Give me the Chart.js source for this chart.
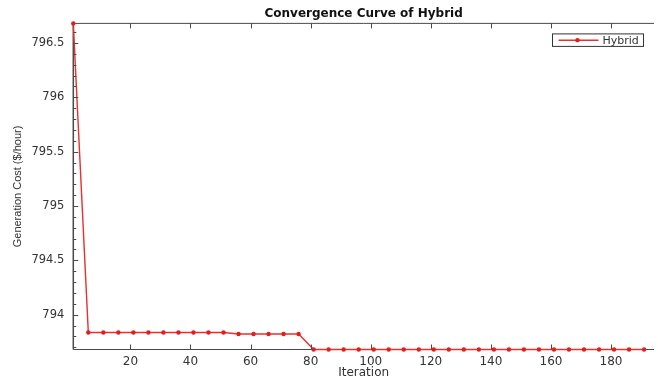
<!DOCTYPE html>
<html>
<head>
<meta charset="utf-8">
<title>Convergence Curve of Hybrid</title>
<script src="https://cdn.jsdelivr.net/npm/chart.js@4.4.0/dist/chart.umd.min.js"></script>
<style>
  html, body { margin: 0; padding: 0; background: #fff; }
  canvas { display: block; }
</style>
</head>
<body>
<canvas id="convChart" width="658" height="382"></canvas>
<script>
// values (markers every 5 iterations)
const iterations = [1, 6, 11, 16, 21, 26, 31, 36, 41, 46, 51, 56, 61, 66, 71, 76, 81, 86, 91, 96,
  101, 106, 111, 116, 121, 126, 131, 136, 141, 146, 151, 156, 161, 166, 171, 176, 181, 186, 191];
const genCost = [796.68,
  793.837, 793.837, 793.837, 793.837, 793.837, 793.837, 793.837, 793.837, 793.837, 793.837,
  793.822, 793.822, 793.822, 793.822, 793.822,
  793.68, 793.68, 793.68, 793.68, 793.68, 793.68, 793.68, 793.68, 793.68, 793.68, 793.68, 793.68,
  793.68, 793.68, 793.68, 793.68, 793.68, 793.68, 793.68, 793.68, 793.68, 793.68, 793.68];
const xTicks = [20, 40, 60, 80, 100, 120, 140, 160, 180];
const yTicks = [794, 794.5, 795, 795.5, 796, 796.5];
const seriesName = 'Hybrid';

const lineRed = '#e8302f';
const axisCol = '#4a4a4a';
const textCol = '#333';

// matlab-ish axes box, inward ticks, legend inside the plot
const matlabAxes = {
  id: 'matlabAxes',
  beforeDraw(chart) {
    const ctx = chart.ctx;
    ctx.save();
    ctx.fillStyle = '#fff';
    ctx.fillRect(0, 0, chart.width, chart.height);
    ctx.restore();
  },
  beforeDatasetsDraw(chart) {
    const ctx = chart.ctx;
    const ca = chart.chartArea;
    ctx.save();
    ctx.strokeStyle = axisCol;
    ctx.lineWidth = 1;
    ctx.beginPath();
    ctx.moveTo(ca.left, ca.bottom);
    ctx.lineTo(ca.right, ca.bottom);
    ctx.moveTo(ca.left, ca.top);
    ctx.lineTo(ca.right, ca.top);
    ctx.stroke();
    ctx.lineWidth = 1.5;
    ctx.beginPath();
    ctx.moveTo(ca.left, ca.top);
    ctx.lineTo(ca.left, ca.bottom);
    ctx.stroke();
    ctx.restore();
  },
  afterDatasetsDraw(chart) {
    const ctx = chart.ctx;
    const ca = chart.chartArea;
    const xs = chart.scales.x, ys = chart.scales.y;
    ctx.save();
    ctx.strokeStyle = axisCol;
    ctx.lineWidth = 1;
    ctx.beginPath();
    xTicks.forEach(v => {
      const px = Math.round(xs.getPixelForValue(v)) + 0.5;
      ctx.moveTo(px, ca.bottom); ctx.lineTo(px, ca.bottom - 5);
      ctx.moveTo(px, ca.top); ctx.lineTo(px, ca.top + 5);
    });
    yTicks.forEach(v => {
      const py = Math.round(ys.getPixelForValue(v)) + 0.5;
      ctx.moveTo(ca.left, py); ctx.lineTo(ca.left + 5, py);
    });
    // minor ticks every 0.1 on the y axis
    for (let k = Math.ceil(ys.min * 10); k <= Math.floor(ys.max * 10); k++) {
      if (k % 5 === 0) continue;
      const py = Math.round(ys.getPixelForValue(k / 10)) + 0.5;
      ctx.moveTo(ca.left, py); ctx.lineTo(ca.left + 3, py);
    }
    ctx.stroke();

    // legend box
    const ds = chart.data.datasets[0];
    const bx = ca.right - 101.5, by = ca.top + 10.5, bw = 91, bh = 12.5;
    ctx.fillStyle = '#fff';
    ctx.fillRect(bx, by, bw, bh);
    ctx.strokeStyle = '#333';
    ctx.strokeRect(bx, by, bw, bh);
    const ly = by + bh / 2;
    ctx.strokeStyle = ds.borderColor;
    ctx.lineWidth = 1.5;
    ctx.beginPath();
    ctx.moveTo(bx + 6, ly); ctx.lineTo(bx + 46, ly);
    ctx.stroke();
    ctx.fillStyle = ds.pointBackgroundColor;
    ctx.beginPath();
    ctx.arc(bx + 25, ly, 2.2, 0, Math.PI * 2);
    ctx.fill();
    ctx.fillStyle = textCol;
    ctx.font = '11px "DejaVu Sans"';
    ctx.textBaseline = 'middle';
    ctx.textAlign = 'left';
    ctx.fillText(ds.label, bx + 50, ly + 0.5);
    ctx.restore();
  }
};

const ctx = document.getElementById('convChart').getContext('2d');
new Chart(ctx, {
  type: 'line',
  data: {
    datasets: [{
      label: seriesName,
      data: iterations.map((it, i) => ({ x: it, y: genCost[i] })),
      borderColor: lineRed,
      borderWidth: 1.4,
      pointRadius: 2.2,
      pointBackgroundColor: '#e01e1e',
      pointBorderWidth: 0,
      tension: 0,
      clip: false
    }]
  },
  options: {
    responsive: false,
    animation: false,
    layout: { padding: 0 },
    plugins: {
      legend: { display: false },
      tooltip: { enabled: false },
      title: {
        display: true,
        fullSize: false,
        text: 'Convergence Curve of Hybrid',
        color: '#111',
        font: { family: 'DejaVu Sans', size: 12, weight: 'bold' },
        padding: { top: 7, bottom: 2 }
      }
    },
    scales: {
      x: {
        type: 'linear',
        min: 1,
        max: 194.3,
        grid: { display: false, drawTicks: false },
        border: { display: false },
        afterBuildTicks: s => { s.ticks = xTicks.map(v => ({ value: v })); },
        afterFit: s => { s.height = 32.5; },
        ticks: {
          color: textCol,
          padding: 5,
          maxRotation: 0,
          font: { family: 'DejaVu Sans', size: 12 },
          callback: v => String(v)
        },
        title: {
          display: true,
          text: 'Iteration',
          color: textCol,
          font: { family: 'DejaVu Sans', size: 12 },
          padding: { top: 0, bottom: 1.5 }
        }
      },
      y: {
        min: 793.68,
        max: 796.68,
        grid: { display: false, drawTicks: false },
        border: { display: false },
        afterBuildTicks: s => { s.ticks = yTicks.map(v => ({ value: v })); },
        afterFit: s => { s.width = 73.3; },
        ticks: {
          color: textCol,
          padding: 9,
          font: { family: 'DejaVu Sans', size: 11.5 },
          callback: v => String(v)
        },
        title: {
          display: true,
          text: 'Generation Cost ($/hour)',
          color: textCol,
          font: { family: 'Liberation Sans', size: 11 },
          padding: { top: 11.4, bottom: 0 }
        }
      }
    }
  },
  plugins: [matlabAxes]
});
</script>
</body>
</html>
